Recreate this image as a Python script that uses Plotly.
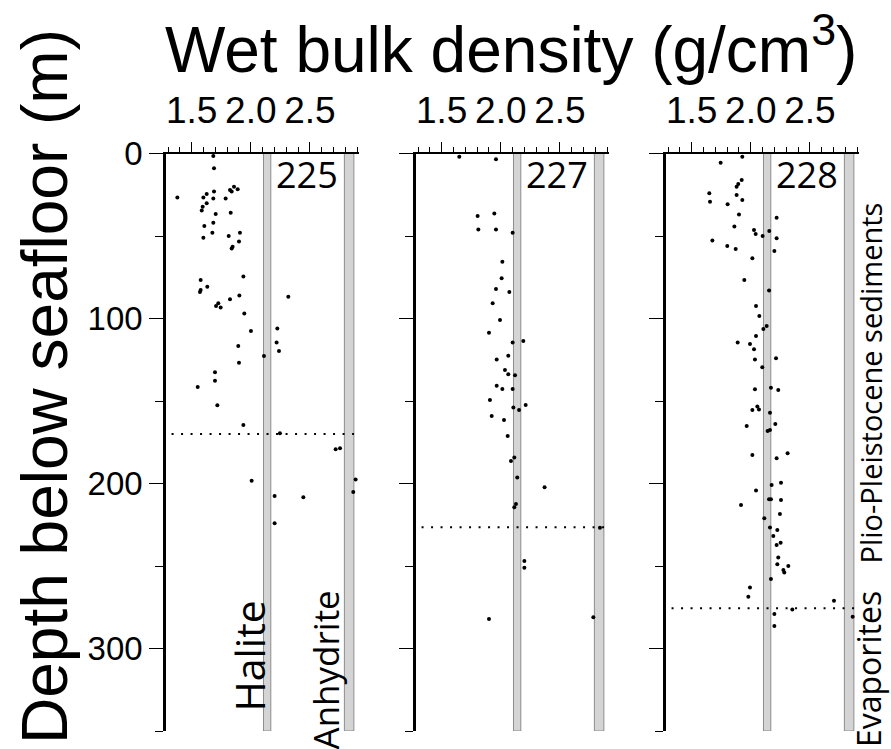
import plotly.graph_objects as go

# ---------------- data ----------------
sites = ["225", "227", "228"]

dens_225 = [1.683, 1.689, 1.379, 1.599, 1.627, 1.689, 1.683, 1.787, 1.824, 1.858,
            1.889, 1.838, 1.627, 1.593, 1.585, 1.703, 1.830, 1.607, 1.683, 1.675,
            1.908, 1.813, 1.599, 1.900, 1.846, 1.838, 1.937, 1.576, 1.632, 1.576,
            1.570, 1.903, 2.317, 1.824, 1.725, 1.706, 1.745, 1.945, 2.001, 2.224,
            1.894, 2.218, 2.238, 2.111, 1.900, 1.697, 1.697, 1.551, 1.717, 1.937,
            2.246, 2.717, 2.754, 2.007, 2.886, 2.201, 2.444, 2.866, 2.201]
depth_225 = [1.5, 9.0, 26.6, 26.6, 24.5, 23.1, 27.2, 27.2, 22.1, 20.1,
             21.7, 23.1, 30.2, 32.2, 34.6, 36.7, 35.9, 43.9, 41.9, 48.0,
             48.0, 50.0, 51.0, 53.4, 56.5, 57.5, 74.6, 76.7, 80.7, 82.7,
             83.9, 86.0, 86.8, 88.4, 90.8, 92.4, 93.4, 96.9, 107.6, 106.0,
             116.7, 114.6, 119.7, 122.7, 126.8, 132.6, 137.7, 141.5, 152.6, 164.5,
             169.6, 179.3, 178.7, 198.3, 197.5, 207.6, 208.4, 205.1, 224.1]

dens_227 = [1.649, 1.959, 1.804, 1.945, 1.810, 1.959, 2.100, 2.013, 2.007, 1.959,
            2.072, 1.931, 1.993, 1.900, 2.100, 2.190, 1.965, 2.063, 2.035, 2.063,
            2.120, 1.965, 2.013, 2.100, 1.908, 2.106, 2.154, 2.210, 1.923, 2.027,
            2.058, 2.114, 2.086, 2.139, 2.370, 2.128, 2.114, 2.838, 2.199, 2.199,
            1.900, 2.782]
depth_227 = [1.9, 3.5, 37.9, 36.3, 46.0, 46.0, 48.0, 65.6, 75.6, 82.1,
             84.0, 90.8, 100.9, 108.6, 114.6, 113.6, 124.8, 122.5, 131.2, 133.8,
             134.4, 140.7, 142.7, 142.7, 149.4, 154.0, 155.4, 152.4, 159.1, 161.5,
             171.2, 184.3, 186.4, 196.3, 202.3, 212.4, 214.4, 226.8, 247.0, 251.0,
             282.1, 281.1]

dens_228 = [1.928, 1.745, 1.923, 1.894, 1.880, 1.649, 1.655, 1.880, 1.928, 1.804,
            1.900, 2.218, 1.861, 2.027, 2.041, 2.100, 2.156, 2.218, 1.675, 1.801,
            1.872, 2.199, 2.013, 1.945, 2.154, 2.044, 2.072, 2.134, 2.106, 2.044,
            1.889, 1.993, 2.027, 2.213, 2.035, 2.097, 2.035, 2.170, 2.232, 2.013,
            2.055, 2.069, 2.162, 1.965, 2.207, 2.162, 2.142, 2.013, 2.218, 2.311,
            2.176, 2.255, 2.044, 2.154, 2.170, 2.255, 1.917, 2.246, 2.114, 2.162,
            2.224, 2.190, 2.252, 2.218, 2.232, 2.224, 2.317, 2.275, 2.283, 2.170,
            1.993, 1.979, 2.703, 2.351, 2.199, 2.199, 2.861]
depth_228 = [1.9, 5.6, 16.1, 18.5, 20.1, 24.1, 29.2, 25.2, 28.2, 30.8,
             36.9, 38.9, 44.3, 46.4, 48.8, 50.0, 47.0, 51.4, 52.8, 56.1,
             57.9, 59.1, 63.5, 76.7, 83.1, 92.4, 98.5, 104.5, 106.4, 110.6,
             114.6, 115.5, 118.7, 124.1, 124.8, 129.6, 142.9, 141.9, 143.3, 155.4,
             153.4, 155.1, 157.1, 165.2, 164.0, 167.6, 168.2, 182.7, 184.7, 181.7,
             200.9, 199.5, 204.3, 209.6, 209.6, 210.0, 213.0, 218.5, 221.1, 226.6,
             228.2, 231.8, 235.9, 237.3, 244.8, 249.0, 250.0, 252.4, 254.0, 257.9,
             263.1, 268.6, 271.0, 276.3, 279.1, 286.4, 280.7]

boundary_depth = [170.0, 226.5, 275.6]   # Plio-Pleistocene / evaporite boundary
halite_density = 2.138
anhydrite_density = 2.831
x_ticks = [1.5, 2.0, 2.5]
x_tick_labels = ["1.5", "2.0", "2.5"]
y_ticks = [0, 100, 200, 300]
y_tick_labels = ["0", "100", "200", "300"]

dens = [dens_225, dens_227, dens_228]
depth = [depth_225, depth_227, depth_228]

# ---------------- layout geometry ----------------
W, H = 891, 749
XR = [1.283, 2.917]
YR = [350, 0]
left_px = [166, 416, 666]
panel_w = 193.3
ytop = 1 - 153.5 / H
ybot = 1 - 731 / H

HELV = "Liberation Sans, Arial, Helvetica, sans-serif"
MYR = "Open Sans, Noto Sans, sans-serif"

fig = go.Figure()
shapes = []
annotations = []

for i in range(3):
    xa = "x" if i == 0 else f"x{i+1}"
    ya = "y" if i == 0 else f"y{i+1}"
    xk = "xaxis" if i == 0 else f"xaxis{i+1}"
    yk = "yaxis" if i == 0 else f"yaxis{i+1}"

    fig.add_trace(go.Scatter(x=dens[i], y=depth[i], mode="markers",
                             marker=dict(size=4, color="black"),
                             xaxis=xa, yaxis=ya, showlegend=False,
                             hoverinfo="skip"))

    fig.update_layout(**{
        xk: dict(domain=[left_px[i] / W, (left_px[i] + panel_w) / W],
                 range=XR, side="top", anchor=ya, automargin=False,
                 tickmode="array", tickvals=x_ticks, ticktext=x_tick_labels,
                 ticks="outside", ticklen=10, tickwidth=1.2, tickcolor="black",
                 ticklabelstandoff=4,
                 minor=dict(tickmode="linear", tick0=1.3, dtick=0.1, ticks="outside",
                            ticklen=5, tickwidth=1, tickcolor="black"),
                 showline=True, linecolor="black", linewidth=1.5,
                 showgrid=False, zeroline=False,
                 tickfont=dict(family=HELV, size=37, color="black"),
                 fixedrange=True),
        yk: dict(domain=[ybot, ytop], range=YR, anchor=xa, automargin=False,
                 tickmode="array", tickvals=y_ticks, ticktext=y_tick_labels,
                 showticklabels=(i == 0),
                 ticks="outside", ticklen=14, tickwidth=1.2, tickcolor="black",
                 minor=dict(tickmode="linear", tick0=0, dtick=50, ticks="outside",
                            ticklen=8, tickwidth=1, tickcolor="black"),
                 showline=True, linecolor="black", linewidth=2.5,
                 showgrid=False, zeroline=False,
                 tickfont=dict(family=HELV, size=33, color="black"),
                 fixedrange=True),
    })

    # mineral reference bands
    for c, w in ((halite_density, 0.062), (anhydrite_density, 0.08)):
        shapes.append(dict(type="rect", xref=xa, yref=ya,
                           x0=c - w / 2, x1=c + w / 2, y0=YR[1], y1=YR[0],
                           fillcolor="#d4d4d4", line=dict(color="#8c8c8c", width=1),
                           layer="below"))
    # boundary dotted line
    shapes.append(dict(type="line", xref=xa, yref=ya, x0=1.33, x1=XR[1],
                       y0=boundary_depth[i], y1=boundary_depth[i],
                       line=dict(color="black", width=2, dash="2px,7.5px")))
    # site label
    annotations.append(dict(x=2.479, y=12.7, xref=xa, yref=ya, text=sites[i],
                            showarrow=False, xanchor="center", yanchor="middle",
                            font=dict(family=MYR, size=36, color="black")))

# rotated lithology labels
def rot(text, xpx, ypx_top, size):
    return dict(x=xpx / W, y=1 - ypx_top / H, xref="paper", yref="paper",
                text=text, textangle=-90, showarrow=False,
                xanchor="center", yanchor="top", borderpad=0,
                font=dict(family=MYR, size=size, color="black"))

annotations += [
    rot("Halite", 248, 600, 41),
    rot("Anhydrite", 325, 590, 35),
    rot("Plio-Pleistocene sediments", 870, 202, 29),
    rot("Evaporites", 868, 590, 32),
]

# titles
annotations.append(dict(x=511 / W, y=1 - 45 / H, xref="paper", yref="paper",
                        text="Wet bulk density (g/cm<sup>3</sup>)", showarrow=False,
                        xanchor="center", yanchor="middle",
                        font=dict(family=HELV, size=64, color="black")))
annotations.append(dict(x=45 / W, y=1 - 387 / H, xref="paper", yref="paper",
                        text="Depth below seafloor (m)", textangle=-90, showarrow=False,
                        xanchor="center", yanchor="middle",
                        font=dict(family=HELV, size=64, color="black")))

fig.update_layout(width=W, height=H, margin=dict(l=0, r=0, t=0, b=0),
                  paper_bgcolor="white", plot_bgcolor="white",
                  shapes=shapes, annotations=annotations, showlegend=False)

fig.write_html("out.html")
